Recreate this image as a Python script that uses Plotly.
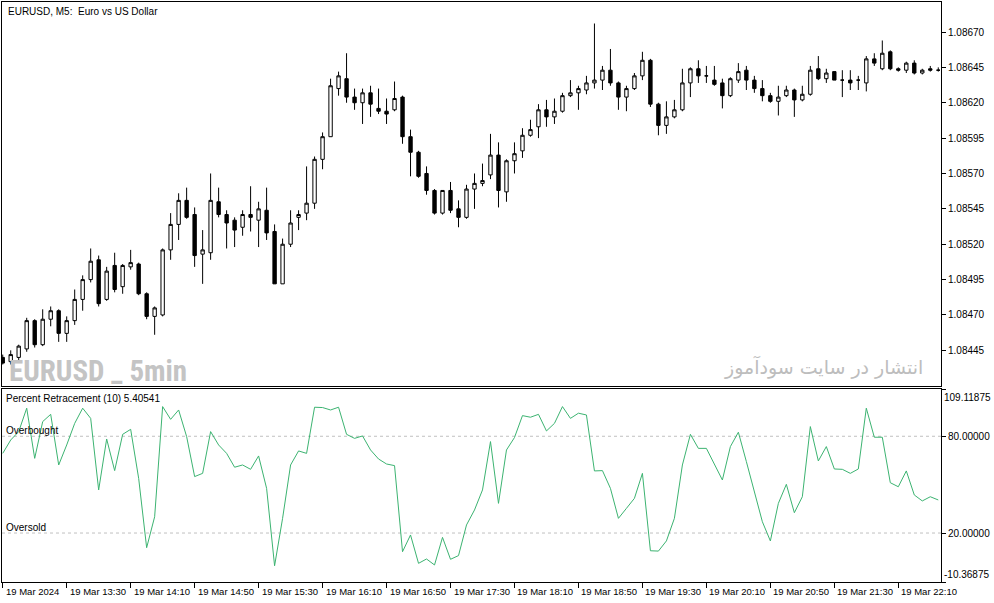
import plotly.graph_objects as go

# ---- data (EURUSD M5, 19 Mar 2024, from 12:50) ----
opens = [1.08440, 1.08437, 1.08440, 1.08446, 1.08466, 1.08449, 1.08467, 1.08473, 1.08457, 1.08466,
         1.08481, 1.08495, 1.08509, 1.08481, 1.08505, 1.08490, 1.08504, 1.08506, 1.08485, 1.08469,
         1.08470, 1.08516, 1.08534, 1.08551, 1.08541, 1.08513, 1.08514, 1.08550, 1.08541, 1.08537,
         1.08532, 1.08541, 1.08537, 1.08544, 1.08529, 1.08492, 1.08520, 1.08539, 1.08542, 1.08549,
         1.08580, 1.08596, 1.08630, 1.08637, 1.08624, 1.08620, 1.08627, 1.08616, 1.08614, 1.08615,
         1.08624, 1.08596, 1.08585, 1.08570, 1.08558, 1.08542, 1.08558, 1.08545, 1.08539, 1.08559,
         1.08563, 1.08569, 1.08583, 1.08557, 1.08579, 1.08586, 1.08597, 1.08603, 1.08615, 1.08610,
         1.08614, 1.08625, 1.08627, 1.08629, 1.08634, 1.08636, 1.08643, 1.08634, 1.08624, 1.08630,
         1.08639, 1.08650, 1.08619, 1.08604, 1.08610, 1.08615, 1.08634, 1.08644, 1.08639, 1.08636,
         1.08634, 1.08625, 1.08636, 1.08643, 1.08636, 1.08630, 1.08625, 1.08621, 1.08625, 1.08629,
         1.08622, 1.08626, 1.08644, 1.08637, 1.08642, 1.08636, 1.08636, 1.08636, 1.08634, 1.08651,
         1.08644, 1.08656, 1.08644, 1.08643, 1.08648, 1.08641, 1.08644, 1.08643]
highs = [1.08442, 1.08445, 1.08449, 1.08468, 1.08467, 1.08474, 1.08476, 1.08474, 1.08469, 1.08488,
         1.08498, 1.08517, 1.08512, 1.08504, 1.08514, 1.08506, 1.08516, 1.08507, 1.08486, 1.08476,
         1.08517, 1.08542, 1.08556, 1.08560, 1.08546, 1.08530, 1.08570, 1.08560, 1.08544, 1.08539,
         1.08544, 1.08561, 1.08550, 1.08560, 1.08534, 1.08524, 1.08544, 1.08544, 1.08575, 1.08582,
         1.08599, 1.08637, 1.08642, 1.08655, 1.08630, 1.08630, 1.08632, 1.08630, 1.08623, 1.08635,
         1.08625, 1.08601, 1.08586, 1.08575, 1.08559, 1.08558, 1.08564, 1.08551, 1.08562, 1.08570,
         1.08577, 1.08598, 1.08592, 1.08580, 1.08592, 1.08602, 1.08608, 1.08619, 1.08622, 1.08623,
         1.08627, 1.08636, 1.08632, 1.08639, 1.08676, 1.08646, 1.08658, 1.08635, 1.08632, 1.08641,
         1.08656, 1.08651, 1.08620, 1.08621, 1.08622, 1.08644, 1.08645, 1.08650, 1.08646, 1.08646,
         1.08637, 1.08638, 1.08648, 1.08646, 1.08639, 1.08636, 1.08627, 1.08632, 1.08632, 1.08630,
         1.08632, 1.08646, 1.08653, 1.08644, 1.08642, 1.08643, 1.08643, 1.08639, 1.08653, 1.08655,
         1.08664, 1.08657, 1.08645, 1.08649, 1.08650, 1.08644, 1.08646, 1.08645]
lows = [1.08435, 1.08435, 1.08438, 1.08444, 1.08447, 1.08448, 1.08462, 1.08451, 1.08451, 1.08463,
        1.08473, 1.08493, 1.08476, 1.08480, 1.08486, 1.08485, 1.08502, 1.08484, 1.08467, 1.08456,
        1.08469, 1.08509, 1.08523, 1.08538, 1.08504, 1.08492, 1.08509, 1.08539, 1.08517, 1.08518,
        1.08526, 1.08529, 1.08518, 1.08523, 1.08492, 1.08492, 1.08518, 1.08530, 1.08537, 1.08545,
        1.08573, 1.08596, 1.08625, 1.08620, 1.08615, 1.08605, 1.08610, 1.08612, 1.08605, 1.08614,
        1.08591, 1.08568, 1.08567, 1.08555, 1.08541, 1.08541, 1.08542, 1.08532, 1.08538, 1.08545,
        1.08561, 1.08566, 1.08546, 1.08550, 1.08570, 1.08581, 1.08596, 1.08595, 1.08603, 1.08605,
        1.08613, 1.08624, 1.08615, 1.08626, 1.08630, 1.08629, 1.08632, 1.08615, 1.08614, 1.08629,
        1.08636, 1.08617, 1.08597, 1.08598, 1.08609, 1.08614, 1.08624, 1.08634, 1.08634, 1.08632,
        1.08616, 1.08624, 1.08634, 1.08629, 1.08627, 1.08621, 1.08620, 1.08611, 1.08624, 1.08610,
        1.08621, 1.08625, 1.08636, 1.08634, 1.08636, 1.08624, 1.08629, 1.08629, 1.08628, 1.08646,
        1.08643, 1.08643, 1.08642, 1.08641, 1.08640, 1.08640, 1.08642, 1.08642]
closes = [1.08436, 1.08442, 1.08448, 1.08466, 1.08449, 1.08467, 1.08473, 1.08457, 1.08466, 1.08481,
          1.08495, 1.08508, 1.08478, 1.08501, 1.08488, 1.08505, 1.08507, 1.08485, 1.08469, 1.08475,
          1.08516, 1.08534, 1.08551, 1.08539, 1.08512, 1.08516, 1.08551, 1.08541, 1.08535, 1.08530,
          1.08541, 1.08539, 1.08545, 1.08528, 1.08492, 1.08520, 1.08535, 1.08541, 1.08549, 1.08580,
          1.08596, 1.08632, 1.08639, 1.08624, 1.08620, 1.08627, 1.08619, 1.08614, 1.08612, 1.08623,
          1.08596, 1.08585, 1.08568, 1.08558, 1.08542, 1.08558, 1.08544, 1.08539, 1.08559, 1.08563,
          1.08565, 1.08583, 1.08558, 1.08579, 1.08584, 1.08597, 1.08601, 1.08615, 1.08610, 1.08614,
          1.08625, 1.08627, 1.08630, 1.08634, 1.08636, 1.08643, 1.08634, 1.08624, 1.08630, 1.08639,
          1.08650, 1.08619, 1.08604, 1.08610, 1.08615, 1.08634, 1.08644, 1.08639, 1.08639, 1.08633,
          1.08625, 1.08637, 1.08642, 1.08636, 1.08630, 1.08625, 1.08621, 1.08624, 1.08629, 1.08622,
          1.08626, 1.08643, 1.08637, 1.08641, 1.08636, 1.08636, 1.08634, 1.08636, 1.08651, 1.08648,
          1.08655, 1.08644, 1.08643, 1.08648, 1.08641, 1.08643, 1.08643, 1.08643]
pct_retr = [69.4, 77.7, 82.9, 97.4, 66.3, 89.1, 93.6, 62.2, 74.6, 88.0,
            97.4, 91.1, 46.7, 78.3, 58.7, 81.2, 84.3, 53.9, 10.9, 30.1,
            98.4, 90.5, 96.3, 79.8, 55.0, 57.0, 82.9, 74.6, 69.4, 60.8,
            62.2, 59.5, 67.8, 47.7, -0.3, 29.1, 62.2, 70.9, 69.4, 98.0,
            97.8, 96.3, 98.0, 81.2, 78.7, 80.2, 71.5, 65.9, 62.8, 61.8,
            8.4, 18.8, 1.2, 3.9, 0.2, 17.3, 3.7, 6.0, 25.0, 34.3,
            46.7, 76.7, 38.4, 71.5, 79.2, 92.8, 91.8, 93.6, 83.3, 88.0,
            98.4, 91.1, 94.3, 93.2, 58.5, 58.7, 47.7, 29.1, 35.3, 41.5,
            57.0, 9.0, 8.8, 15.1, 29.1, 62.2, 81.2, 72.5, 72.5, 62.6,
            52.9, 73.6, 82.5, 64.3, 45.7, 27.0, 15.1, 38.4, 50.2, 32.6,
            42.5, 86.0, 64.7, 73.6, 59.7, 59.5, 57.0, 59.7, 97.4, 79.4,
            79.4, 51.2, 48.7, 58.5, 43.6, 39.9, 42.5, 40.5]

time_labels = ["19 Mar 2024", "19 Mar 13:30", "19 Mar 14:10", "19 Mar 14:50", "19 Mar 15:30",
               "19 Mar 16:10", "19 Mar 16:50", "19 Mar 17:30", "19 Mar 18:10", "19 Mar 18:50",
               "19 Mar 19:30", "19 Mar 20:10", "19 Mar 20:50", "19 Mar 21:30", "19 Mar 22:10"]
time_label_bars = [0, 8, 16, 24, 32, 40, 48, 56, 64, 72, 80, 88, 96, 104, 112]
price_ticks = [1.08445, 1.08470, 1.08495, 1.08520, 1.08545, 1.08570, 1.08595, 1.08620, 1.08645, 1.08670]
price_range = [1.084198, 1.086912]
ind_range = [-10.36875, 109.11875]
level_ob, level_os = 80.0, 20.0

bars = list(range(len(closes)))
x_range = [-0.09, len(closes) - 1 + 0.34]

FONT = "Liberation Sans"
fig = go.Figure()
fig.add_trace(go.Candlestick(
    x=bars, open=opens, high=highs, low=lows, close=closes,
    increasing=dict(fillcolor="white", line=dict(color="black", width=1)),
    decreasing=dict(fillcolor="black", line=dict(color="black", width=1)),
    whiskerwidth=0, xaxis="x", yaxis="y", hoverinfo="skip", showlegend=False))
fig.add_trace(go.Scatter(
    x=bars, y=pct_retr, mode="lines", line=dict(color="#3cb371", width=1),
    xaxis="x2", yaxis="y2", hoverinfo="skip", showlegend=False))

axis_common = dict(showline=True, linecolor="black", linewidth=1, mirror=True,
                   showgrid=False, zeroline=False)
upper_bottom = (582 - 386) / 580
lower_top = (582 - 389.3) / 580

fig.update_layout(
    width=994, height=603,
    margin=dict(l=2, r=53, t=2, b=21),
    paper_bgcolor="white", plot_bgcolor="white",
    font=dict(family=FONT, size=10, color="black"),
    boxgap=0.4,
    xaxis=dict(range=x_range, domain=[0, 1], anchor="y", showticklabels=False, ticks="",
               rangeslider=dict(visible=False), **axis_common),
    yaxis=dict(range=price_range, domain=[upper_bottom, 1], anchor="x", side="right",
               tickvals=price_ticks, tickformat=".5f", ticks="outside", ticklen=4,
               tickcolor="black", tickfont=dict(size=10), **axis_common),
    xaxis2=dict(range=x_range, domain=[0, 1], anchor="y2", tickvals=time_label_bars,
                showticklabels=False, ticks="outside", ticklen=5, tickcolor="black",
                **axis_common),
    yaxis2=dict(range=ind_range, domain=[0, lower_top], anchor="x2", side="right",
                tickvals=[ind_range[1], level_ob, level_os, ind_range[0]],
                ticktext=["", f"{level_ob:.5f}", f"{level_os:.5f}", ""],
                ticks="outside", ticklen=4, tickcolor="black",
                tickfont=dict(size=10), **axis_common),
)

for lvl in (level_ob, level_os):
    fig.add_shape(type="line", xref="x2 domain", x0=0, x1=1, yref="y2", y0=lvl, y1=lvl,
                  line=dict(color="#c0c0c0", width=1, dash="3px,3px"), layer="below")

ann = []
for b, t in zip(time_label_bars, time_labels):
    ann.append(dict(x=b, xref="x2", y=0, yref="y2 domain", text=t, showarrow=False,
                    xanchor="left", yanchor="top", xshift=1, yshift=-2,
                    font=dict(size=9.5)))
ann.append(dict(x=1, xref="x2 domain", y=ind_range[1], yref="y2", text=f"{ind_range[1]:.5f}",
                showarrow=False, xanchor="left", yanchor="top", xshift=1, yshift=-1,
                font=dict(size=10)))
ann.append(dict(x=1, xref="x2 domain", y=ind_range[0], yref="y2", text=f"{ind_range[0]:.5f}",
                showarrow=False, xanchor="left", yanchor="bottom", xshift=1, yshift=0,
                font=dict(size=10)))
ann.append(dict(x=0, xref="x domain", y=1, yref="y domain", text="EURUSD, M5:  Euro vs US Dollar",
                showarrow=False, xanchor="left", yanchor="top", xshift=4, yshift=-2))
ann.append(dict(x=0, xref="x2 domain", y=1, yref="y2 domain",
                text=f"Percent Retracement (10) 5.40541",
                showarrow=False, xanchor="left", yanchor="top", xshift=2, yshift=-2))
ann.append(dict(x=0, xref="x2 domain", y=level_ob, yref="y2", text="Overbought",
                showarrow=False, xanchor="left", yanchor="bottom", xshift=2, yshift=-2))
ann.append(dict(x=0, xref="x2 domain", y=level_os, yref="y2", text="Oversold",
                showarrow=False, xanchor="left", yanchor="bottom", xshift=2, yshift=-2))
ann.append(dict(x=0, xref="x domain", y=0, yref="y domain", text="<b>EURUSD _ 5min</b>",
                showarrow=False, xanchor="left", yanchor="bottom", xshift=5, yshift=-4,
                font=dict(family="Roboto Condensed, DejaVu Sans Condensed, sans-serif",
                          size=29, color="#c4c4c4")))
ann.append(dict(x=(925 - 2) / 939, xref="x domain", y=0, yref="y domain",
                text="انتشار در سایت سودآموز",
                showarrow=False, xanchor="right", yanchor="bottom", xshift=0, yshift=5,
                font=dict(family="DejaVu Sans", size=19, color="#bdbdbd")))
fig.update_layout(annotations=ann)

fig.write_html("out.html", config={"displayModeBar": False},
               post_script="document.body.style.margin='0';document.body.style.overflow='hidden';")
